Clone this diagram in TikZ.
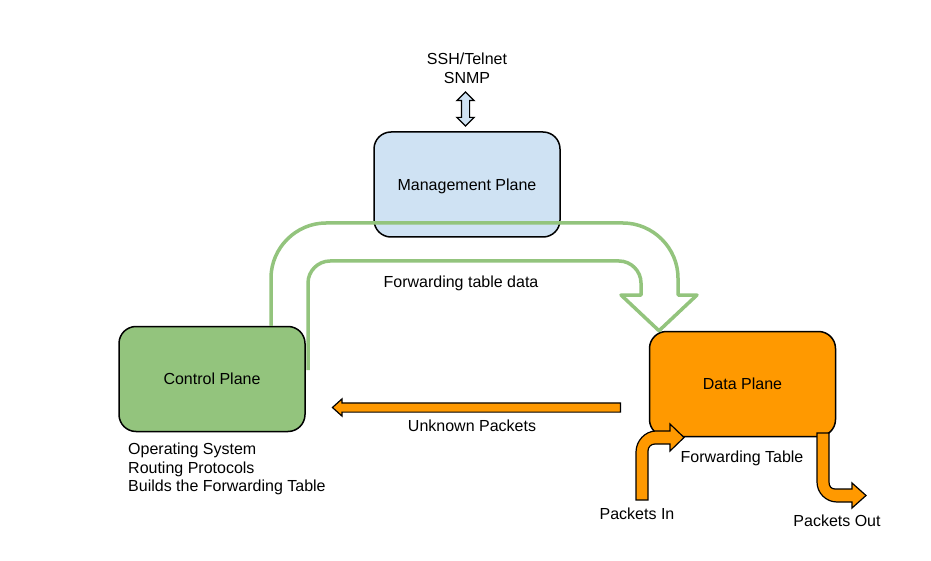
\documentclass[tikz,border=0pt]{standalone}
\usepackage{fontspec}
\setmainfont{Liberation Sans}
\usetikzlibrary{positioning, shapes.arrows}

\definecolor{mgmtblue}{HTML}{CFE2F3}
\definecolor{ctrlgreen}{HTML}{93C47D}
\definecolor{dataorange}{HTML}{FF9900}

\begin{document}
\begin{tikzpicture}[x=1pt, y=-1pt,
  font=\fontsize{16}{18.5}\selectfont,
  plane/.style={draw, line width=1.5pt, rounded corners=17pt,
    minimum width=186pt, minimum height=105pt, text depth=0pt, text centered},
  txt/.style={inner sep=0pt, align=center},
  flow/.style={draw, line width=1.2pt, fill=dataorange, line join=miter},
  feed/.style={draw=ctrlgreen, line width=3.5pt, line join=round}
]

% Page
\fill[white] (0,0) rectangle (931,561);
\useasboundingbox (0,0) rectangle (931,561);

% Planes
\node[plane, fill=mgmtblue] (mp) at (467,184.5) {Management Plane};
\node[plane, fill=ctrlgreen] (cp) at (212,379) {Control Plane};
\node[plane, fill=dataorange] (dp) at (742.5,384) {Data Plane};

% Remote access to the management plane
\node[txt] (remote) at (467,68.5) {SSH/Telnet\\SNMP};
\node[double arrow, draw, line width=1.2pt, fill=mgmtblue, rotate=90,
  minimum height=34pt, inner sep=3.5pt, double arrow head extend=4.5pt]
  (access) at (465.5,109) {};

% Forwarding table data (control -> data)
\coordinate (fwdout) at (271,0 |- cp.north);
\coordinate (fwdtip) at (659,0 |- dp.north);
\draw[feed] (fwdout) -- (271,278) .. controls (271,248) and (296,223) .. (326,223)
  -- (623,223) .. controls (653,223) and (678,248) .. (678,278)
  -- (678,295) -- (697,295) -- (fwdtip) -- (621,295) -- (641,295)
  -- (641,283) .. controls (641,271) and (631,261) .. (619,261)
  -- (330,261) .. controls (318,261) and (308,271) .. (308,283) -- (308,370);
\node[txt] (fwdlabel) at (461,283) {Forwarding table data};

% Unknown packets (data -> control)
\node[single arrow, draw, line width=1.2pt, fill=dataorange,
  shape border rotate=180, minimum height=288pt, inner sep=4pt,
  single arrow head extend=4pt, single arrow tip angle=84]
  (unknown) at (479,407.5) {};
\node[txt] (unknownlabel) at (472,426) {Unknown Packets};

% Packets in / out
\draw[flow] (636,500) -- (636,452) .. controls (636,441) and (645,431) .. (656,431)
  -- (670,431) -- (670,424) -- (684,437.5) -- (670,451) -- (670,444)
  -- (655,444) .. controls (651,444) and (648,447) .. (648,451) -- (648,500) -- cycle;
\draw[flow] (817,433) -- (817,482) .. controls (817,493) and (826,502) .. (837,502)
  -- (852,502) -- (852,508) -- (866,495.5) -- (852,483) -- (852,489)
  -- (835,489) .. controls (831,489) and (829,486) .. (829,482) -- (829,433) -- cycle;

% Annotations
\node[txt, align=left, anchor=west] (cpnotes) at (128,469)
  {Operating System\\Routing Protocols\\Builds the Forwarding Table};
\node[txt] (fwdtable) at (742,458) {Forwarding Table};
\node[txt] (pktin) at (637,514) {Packets In};
\node[txt] (pktout) at (837,521) {Packets Out};

\end{tikzpicture}
\end{document}
